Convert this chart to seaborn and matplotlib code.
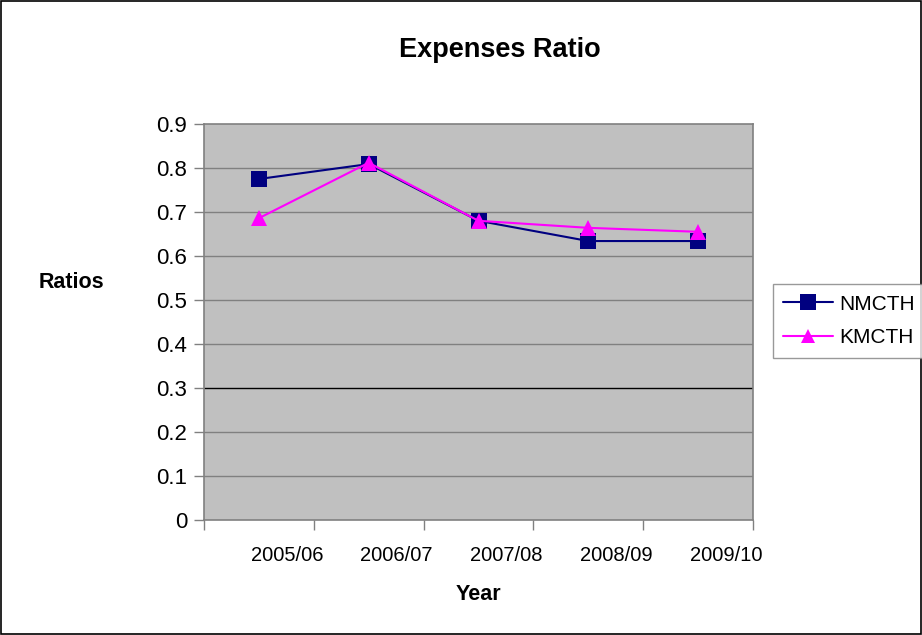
import matplotlib
matplotlib.use('Agg')
import matplotlib.pyplot as plt
import matplotlib.transforms as mtransforms
import numpy as np
import pandas as pd
import seaborn as sns

# ==========================================
# DATA
# ==========================================
YEARS = ["2005/06", "2006/07", "2007/08", "2008/09", "2009/10"]
NMCTH = [0.775, 0.809, 0.680, 0.634, 0.634]
KMCTH = [0.686, 0.812, 0.680, 0.664, 0.655]
Y_TICKS = [0, 0.1, 0.2, 0.3, 0.4, 0.5, 0.6, 0.7, 0.8, 0.9]

sns.set_style("white")
plt.rcParams['font.family'] = ['Liberation Sans', 'DejaVu Sans']
plt.rcParams['text.color'] = 'black'
plt.rcParams['xtick.labelcolor'] = 'black'
plt.rcParams['ytick.labelcolor'] = 'black'

df = pd.DataFrame({
    "pos": list(range(len(YEARS))) * 2,
    "Ratio": NMCTH + KMCTH,
    "Hospital": ["NMCTH"] * len(YEARS) + ["KMCTH"] * len(YEARS),
})

fig = plt.figure(figsize=(9.22, 6.35), dpi=100)
ax = fig.add_axes([204 / 922, 1 - 520 / 635, 549 / 922, 396 / 635])
ax.set_facecolor("#c0c0c0")

sns.lineplot(data=df, x="pos", y="Ratio", hue="Hospital", style="Hospital",
             palette={"NMCTH": "#000080", "KMCTH": "#ff00ff"},
             markers={"NMCTH": "s", "KMCTH": "^"}, dashes=False,
             markersize=12, linewidth=1.5, markeredgewidth=0, ax=ax,
             legend=False)
# triangles a bit smaller than the squares
for line in ax.lines:
    if line.get_marker() == "^":
        line.set_markersize(11)

ax.set_xlim(-0.5, len(YEARS) - 0.5)
ax.set_ylim(0, 0.9)
ax.set_yticks(Y_TICKS)
ax.set_yticklabels(["0"] + [f"{v:.1f}" for v in Y_TICKS[1:]])

# horizontal gridlines (Excel style, 0.3 drawn black)
for v in Y_TICKS[1:-1]:
    ax.axhline(v, color="black" if abs(v - 0.3) < 1e-9 else "#808080",
               lw=1, zorder=0.5)

# category boundaries as tick marks, labels shifted to the right
ax.set_xticks(np.arange(-0.5, len(YEARS), 1.0), minor=True)
ax.set_xticks(range(len(YEARS)))
ax.set_xticklabels(YEARS)
ax.tick_params(axis="x", which="major", length=0, labelsize=14.5, pad=19)
ax.tick_params(axis="x", which="minor", length=7, width=1, color="#808080",
               direction="out", bottom=True)
ax.tick_params(axis="y", length=7, width=1, color="#808080", direction="out",
               left=True, labelsize=16, pad=5)
offset = mtransforms.ScaledTranslation(28 / 100, 0, fig.dpi_scale_trans)
for lbl in ax.get_xticklabels():
    lbl.set_transform(lbl.get_transform() + offset)

for side in ["left", "bottom", "top", "right"]:
    ax.spines[side].set_color("#808080")
    ax.spines[side].set_linewidth(1.2)

ax.set_xlabel("")
ax.set_ylabel("")
fig.text(500 / 922, 1 - 50 / 635, "Expenses Ratio", ha="center", va="center",
         fontsize=19.5, fontweight="bold")
fig.text(71 / 922, 1 - 283 / 635, "Ratios", ha="center", va="center",
         fontsize=15.5, fontweight="bold")
fig.text(478 / 922, 1 - 594 / 635, "Year", ha="center", va="center",
         fontsize=15.5, fontweight="bold")

# legend
handles = [
    plt.Line2D([], [], color="#000080", marker="s", markersize=11, lw=1.5,
               markeredgewidth=0),
    plt.Line2D([], [], color="#ff00ff", marker="^", markersize=10, lw=1.5,
               markeredgewidth=0),
]
leg = fig.legend(handles, ["NMCTH", "KMCTH"], loc="center left",
                 bbox_to_anchor=(773 / 922, 1 - 321 / 635), fontsize=15,
                 frameon=True, fancybox=False, handlelength=2.4,
                 handletextpad=0.3, borderpad=0.5, labelspacing=0.7,
                 borderaxespad=0)
leg.get_frame().set_edgecolor("#808080")
leg.get_frame().set_linewidth(1)

# outer chart border
fig.patches.append(plt.Rectangle((0.001, 0.002), 0.998, 0.996,
                                 transform=fig.transFigure, fill=False,
                                 edgecolor="black", lw=1.2))

fig.savefig("out.png", dpi=100)
